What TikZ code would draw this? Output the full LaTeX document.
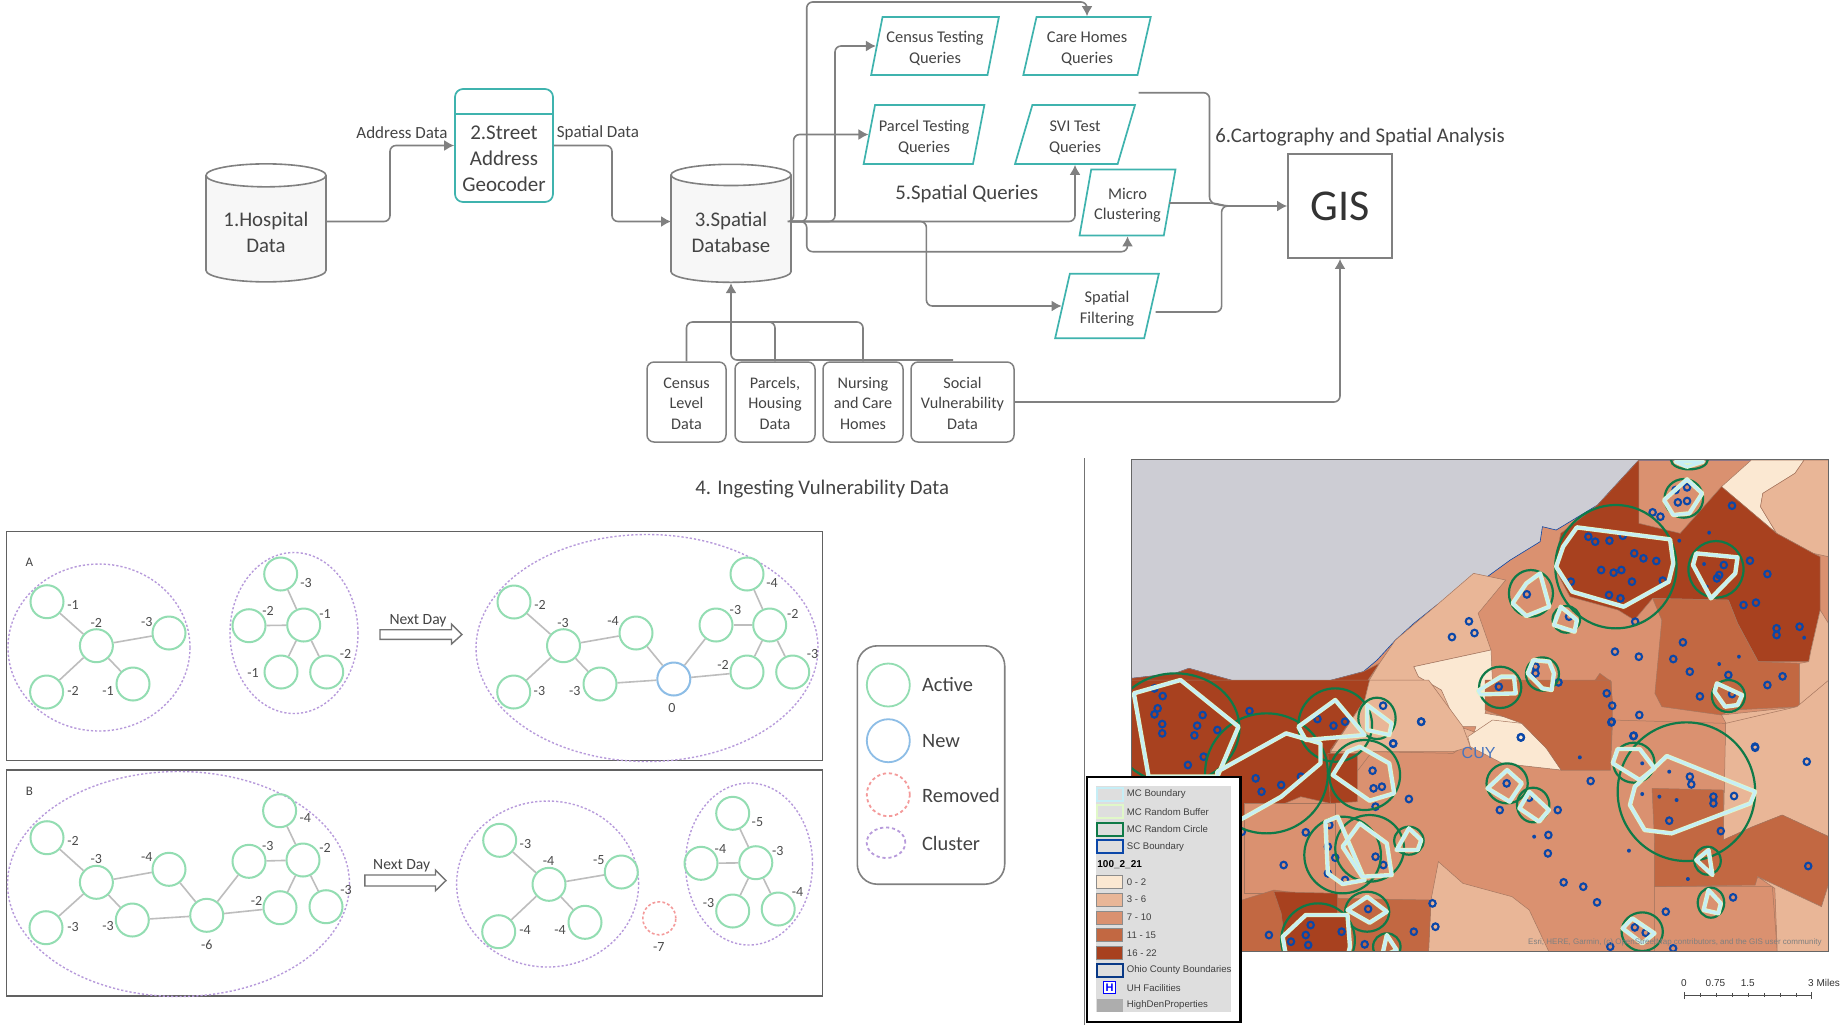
\documentclass[tikz,border=0pt]{standalone}
\usepackage{fontspec}
\setmainfont{Carlito}
\newfontfamily\arialf{Liberation Sans}
\usetikzlibrary{shapes.geometric,arrows.meta}
\definecolor{teal1}{HTML}{3FB3AE}
\definecolor{conn}{HTML}{808080}
\definecolor{txt}{HTML}{444444}
\definecolor{actg}{HTML}{93DDB2}
\definecolor{newb}{HTML}{8DBDE6}
\definecolor{remr}{HTML}{F49A9A}
\definecolor{clup}{HTML}{B79ADB}
\definecolor{edgeg}{HTML}{BDBDBD}
\definecolor{lake}{HTML}{CDCDD4}
\definecolor{ca}{HTML}{FBE8D2}
\definecolor{cb}{HTML}{E9B697}
\definecolor{cc}{HTML}{DA9170}
\definecolor{cd}{HTML}{C26842}
\definecolor{ce}{HTML}{A8411F}
\definecolor{ringg}{HTML}{0F7A48}
\definecolor{ringb}{HTML}{0B47A8}
\definecolor{bndb}{HTML}{C6EEF6}
\definecolor{bufg}{HTML}{E0F8C8}
\definecolor{regedge}{HTML}{A5765F}
\tikzset{
  x=0.5pt,y=-0.5pt,
  lab/.style={text=txt,inner sep=0pt,align=center},
  flowt/.style={lab,font=\fontsize{8.5}{10.3}\selectfont},
  cyl/.style={cylinder,shape border rotate=90,shape aspect=0.27,draw=conn,line width=.8pt,
     cylinder uses custom fill,cylinder end fill=white,cylinder body fill=black!3,
     minimum width=60pt,minimum height=59pt,inner sep=0pt,lab,
     font=\fontsize{10.4}{12.8}\selectfont},
  para/.style={trapezium,trapezium left angle=75,trapezium right angle=105,trapezium stretches=true,
     draw=teal1,line width=.85pt,inner sep=0pt,lab,font=\fontsize{8.2}{10.3}\selectfont},
  srcbox/.style={rectangle,rounded corners=3.5pt,draw=conn,line width=.75pt,minimum height=40pt,
     inner sep=0pt,lab,font=\fontsize{8.1}{10.3}\selectfont},
  cnx/.style={draw=conn,line width=.8pt,rounded corners=3pt},
  arr/.style={cnx,-{Latex[length=5pt,width=5.5pt]}},
  head/.style={lab,font=\fontsize{10.4}{13}\selectfont},
  panel/.style={rectangle,draw=black!62,line width=.7pt,inner sep=0pt},
  act/.style={circle,draw=actg,line width=1pt,minimum size=16.5pt,inner sep=0pt},
  newn/.style={circle,draw=newb,line width=1pt,minimum size=16.5pt,inner sep=0pt},
  remn/.style={ellipse,draw=remr,line width=.8pt,dash pattern=on 1.4pt off 1.1pt,minimum width=16.5pt,minimum height=16.5pt,inner sep=0pt},
  clu/.style={ellipse,draw=clup,line width=.7pt,dash pattern=on 1.1pt off 1pt,inner sep=0pt},
  edg/.style={draw=edgeg,line width=.8pt},
  val/.style={lab,font=\fontsize{7}{8}\selectfont,text=black!70},
  lgc/.style={circle,line width=.9pt,minimum size=21.5pt,inner sep=0pt},
  lgt/.style={lab,anchor=west,font=\fontsize{10.2}{11}\selectfont},
  blockarr/.style={draw=black!55,line width=.7pt,fill=white},
  buf/.style={draw=bufg,line width=2.2pt,line join=round},
  bnd/.style={draw=bndb,line width=1.4pt,line join=round},
  grn/.style={draw=ringg,line width=1.1pt},
  ring/.style={draw=ringb,line width=1.05pt},
  swt/.style={rectangle,draw=black!45,line width=.3pt,minimum width=13pt,minimum height=6.5pt,inner sep=0pt},
  swo/.style={rectangle,line width=1pt,minimum width=13pt,minimum height=6.5pt,inner sep=0pt,fill=black!13},
  lgm/.style={anchor=west,inner sep=0pt,text=black!75,font=\arialf\fontsize{4.8}{5}\selectfont},
  sbl/.style={inner sep=0pt,text=black!80,font=\arialf\fontsize{5}{6}\selectfont},
}
\newcommand\mapreg[2]{\filldraw[fill=#1,draw=regedge,line width=.25pt] plot coordinates {#2} -- cycle;}
\newcommand\mcpoly[1]{\draw[buf] plot coordinates {#1} -- cycle; \draw[bnd] plot coordinates {#1} -- cycle;}
\newcommand\pstr{\rule{0pt}{8.3pt}}
\newcommand\bstr{\rule{0pt}{7pt}}
\newcommand\cstr{\rule{0pt}{10.8pt}}
\begin{document}
\begin{tikzpicture}
\useasboundingbox (0,0) rectangle (1840,1025);
\fill[white] (0,0) rectangle (1840,1025);

% ---------- flow chart ----------
\node[cyl] (hosp) at (266,229) {\cstr 1.Hospital\\Data};
\node[cyl] (sdb) at (731,229) {\cstr 3.Spatial\\Database};
\node[rectangle,rounded corners=4pt,draw=teal1,line width=.85pt,minimum width=49pt,minimum height=56.5pt,inner sep=0pt] (geo) at (504,145.5) {};
\draw[teal1,line width=.85pt] (geo.west |- 0,114) -- (geo.east |- 0,114);
\node[lab,font=\fontsize{10.5}{13}\selectfont] (geot) at (504,159) {2.Street\\Address\\Geocoder};
\node[flowt] (addr) at (402,133) {Address Data};
\node[flowt] (spat) at (598,133) {Spatial Data};

\node[para,minimum width=64pt,minimum height=29pt] (q1) at (935,46) {\pstr Census Testing\\Queries};
\node[para,minimum width=64pt,minimum height=29pt] (q2) at (1087,46) {\pstr Care Homes\\Queries};
\node[para,minimum width=60.5pt,minimum height=29.5pt] (q3) at (924,134.5) {\pstr Parcel Testing\\Queries};
\node[para,minimum width=60pt,minimum height=29.5pt] (q4) at (1075,134.5) {\pstr SVI Test\\Queries};
\node[para,minimum width=48pt,minimum height=33pt] (q5) at (1127.5,202.5) {\pstr Micro\\Clustering};
\node[para,minimum width=52pt,minimum height=32.2pt] (q6) at (1107,306) {\pstr Spatial\\Filtering};
\node[rectangle,draw=conn,line width=.9pt,fill=white,minimum width=52pt,minimum height=52pt,inner sep=0pt,lab,text=black!80,font=\fontsize{22}{24}\selectfont] (gis) at (1340,206) {GIS};

\node[head,anchor=west] (h5) at (895,194) {5.Spatial Queries};
\node[head,anchor=west] (h6) at (1215,137.5) {6.Cartography and Spatial Analysis};
\node[head,anchor=west] (h4) at (695,489.5) {4. Ingesting Vulnerability Data};

\node[srcbox,minimum width=39.5pt] (s1) at (686.5,402) {\bstr Census\\Level\\Data};
\node[srcbox,minimum width=40pt] (s2) at (775,402) {\bstr Parcels,\\Housing\\Data};
\node[srcbox,minimum width=40pt] (s3) at (863,402) {\bstr Nursing\\and Care\\Homes};
\node[srcbox,minimum width=51.5pt] (s4) at (962.5,402) {\bstr Social\\Vulnerability\\Data};

\coordinate (outq2) at (1138.7,92.7);
\coordinate (outq5) at (1169,203);
\coordinate (outq6) at (1155.7,312);
\coordinate (sdbout) at (791,221.5);
\coordinate (sdbin) at (671,221.5);
\coordinate (hospout) at (326,221.5);
\coordinate (s4top) at (953,360);

\draw[arr] (hospout) -- (390,221.5) -- (390,145.5) -- (geo.west);
\draw[arr] (geo.east) -- (612,145.5) -- (612,221.5) -- (sdbin);
\draw[arr] (sdbout) -- (806.7,221.5) -- (806.7,2) -- (1087,2) -- (q2.north);
\draw[arr] (sdbout) -- (835,221.5) -- (835,46) -- (q1.west);
\draw[arr] (sdbout) -- (793.6,221.5) -- (793.6,134.5) -- (q3.west);
\draw[arr] (sdbout) -- (1075,221.5) -- (q4.south);
\draw[arr] (sdbout) -- (806.7,221.5) -- (806.7,251.7) -- (1127.5,251.7) -- (q5.south);
\draw[arr] (sdbout) -- (926.4,221.5) -- (926.4,306) -- (q6.west);
\draw[cnx] (outq2) -- (1209.5,92.7) -- (1209.5,203) -- (1225,206);
\draw[arr] (outq5) -- (1215,203) -- (1225,206) -- (gis.west);
\draw[cnx] (outq6) -- (1221.6,312) -- (1221.6,206) -- (1240,206);
\draw[arr] (s4.east) -- (1340,402) -- (gis.south);
\draw[cnx] (s1.north) -- (686.5,322) -- (731,322);
\draw[cnx] (s2.north) -- (775,322) -- (731,322);
\draw[cnx] (s3.north) -- (863,322) -- (731,322);
\draw[cnx] (s4top) -- (731,360) -- (731,330);
\draw[arr] (731,330) -- (sdb.south);

% ---------- panels ----------
\node[panel,minimum width=408pt,minimum height=114.5pt] (pa) at (414.2,646.2) {};
\node[panel,minimum width=408pt,minimum height=113pt] (pb) at (414.2,883) {};
\node[lab,font=\fontsize{6.5}{7}\selectfont] (la) at (29.5,562.7) {A};
\node[lab,font=\fontsize{6.5}{7}\selectfont] (lb) at (29.5,791) {B};

% panel A
\node[clu,minimum width=91pt,minimum height=83.5pt] (ca1) at (99,647.5) {};
\node[clu,minimum width=64pt,minimum height=80.5pt] (ca2) at (294,633) {};
\node[clu,minimum width=171pt,minimum height=113.5pt] (ca3) at (647,648) {};
\foreach \n/\x/\y in {a1/47/601.7,a2/96.4/645.7,a3/169/633,a4/46.6/692,a5/133/684,
   b1/280.7/574,b2/303.7/625,b3/249/625.7,b4/281/672,b5/326.7/672,
   c1/514/602,c2/563.5/645.7,c3/636/633,c4/513.7/692,c5/600/684,
   c7/716/625,c8/769.7/625,c9/747/574,c10/747/672,c11/792.7/672}
  \node[act] (\n) at (\x,\y) {};
\node[newn] (c6) at (673.8,679) {};
\foreach \u/\v in {a1/a2,a2/a3,a2/a4,a2/a5,b1/b2,b3/b2,b2/b4,b2/b5,
   c1/c2,c2/c3,c2/c4,c2/c5,c3/c6,c5/c6,c6/c7,c6/c10,c7/c8,c9/c8,c8/c10,c8/c11}
  \draw[edg] (\u) -- (\v);
\foreach \x/\y/\t [count=\i] in {73/605/-1,96.4/622.7/-2,146.8/621.7/-3,73/690.7/-2,108/690.7/-1,
   306/583/-3,325/614/-1,268/610.7/-2,253/673/-1,345.5/654/-2,
   540/605/-2,563/622.7/-3,613/621/-4,539.4/690.7/-3,574.7/690.7/-3,672/708/0,
   735.4/610/-3,792.7/614/-2,772/583/-4,723/665/-2,812.5/654/-3}
  \node[val] (va\i) at (\x,\y) {\t};
\draw[blockarr] (380,629.7) -- (451.5,629.7) -- (451.5,624) -- (462,634.5) -- (451.5,644) -- (451.5,639.3) -- (380,639.3) -- cycle;
\node[lab,font=\fontsize{7.8}{8}\selectfont] (nd1) at (418,620.5) {Next Day};

% panel B
\node[clu,minimum width=171pt,minimum height=112.5pt] (cd) at (178.5,884) {};
\node[clu,minimum width=91pt,minimum height=83pt] (ce) at (547.6,884) {};
\node[clu,minimum width=63.5pt,minimum height=81pt] (cf) at (749,864) {};
\foreach \n/\x/\y in {d1/47/837.7,d2/96.4/882.3,d3/169/869.3,d4/46/927.7,d5/132.3/920,d6/206.7/915.3,
   d7/249/861.3,d8/303/860,d9/279.6/810.7,d10/280/907.7,d11/326/906.7,
   e1/499.7/840.3,e2/549/884.3,e3/621.3/872,e4/498.7/931.7,e5/585/922.3,
   f1/732.7/813.3,f2/755.8/862.7,f3/701/863.3,f4/732.7/911,f5/778.2/909}
  \node[act] (\n) at (\x,\y) {};
\node[remn] (rm) at (659.3,918.3) {};
\foreach \u/\v in {d1/d2,d2/d3,d2/d4,d2/d5,d3/d6,d5/d6,d6/d7,d6/d10,d7/d8,d9/d8,d8/d10,d8/d11,
   e1/e2,e2/e3,e2/e4,e2/e5,f1/f2,f3/f2,f2/f4,f2/f5}
  \draw[edg] (\u) -- (\v);
\foreach \x/\y/\t [count=\i] in {73/841/-2,96.4/859/-3,146.8/856.7/-4,73/926.7/-3,108/925.7/-3,206.7/944.7/-6,
   267.8/846/-3,325/848.3/-2,305.3/818.3/-4,256.6/901/-2,346/890/-3,
   525.4/844/-3,548.5/861.3/-4,598.8/860/-5,525/930/-4,560/930/-4,658.8/947.3/-7,
   757.4/821.7/-5,777.7/850.7/-3,720.4/849/-4,708.6/903.3/-3,797.5/892.3/-4}
  \node[val] (vb\i) at (\x,\y) {\t};
\draw[blockarr] (364.8,875) -- (435.5,875) -- (435.5,870) -- (446,880.5) -- (435.5,890.7) -- (435.5,886) -- (364.8,886) -- cycle;
\node[lab,font=\fontsize{7.8}{8}\selectfont] (nd2) at (401.7,865.5) {Next Day};

% graph legend
\node[rectangle,rounded corners=10pt,draw=black!50,line width=.8pt,minimum width=73.7pt,minimum height=119.2pt,inner sep=0pt] (glg) at (931,765) {};
\node[lgc,draw=actg] (g1) at (888.3,685) {};
\node[lgc,draw=newb] (g2) at (888.3,740.7) {};
\node[lgc,draw=remr,dash pattern=on 1.6pt off 1.4pt] (g3) at (888.3,794.7) {};
\node[ellipse,draw=clup,line width=.9pt,dash pattern=on 1.6pt off 1.4pt,minimum width=19.3pt,minimum height=15.3pt,inner sep=0pt] (g4) at (886,842.7) {};
\node[lgt] (gt1) at (921.7,685) {Active};
\node[lgt] (gt2) at (921.7,740.7) {New};
\node[lgt] (gt3) at (921.7,795) {Removed};
\node[lgt] (gt4) at (921.7,843) {Cluster};

% divider
\draw[black!55,line width=.4pt] (1084.4,458) -- (1084.4,1025);

% ---------- map ----------
\begin{scope}
\clip (1131.5,459.3) rectangle (1828.5,951.7);
\fill[lake] (1131.5,459.3) rectangle (1828.5,951.7);
% land top half, crop coordinates
\begin{scope}[shift={(1120,450)},x=0.22957pt,y=-0.16667pt]
\filldraw[fill=cc,draw=ringb,line width=.3pt] plot coordinates {(25,685)(120,670)(150,655)(280,705)(385,740)(420,705)(530,665)(560,630)(600,570)(640,520)(690,465)(770,410)(850,330)(915,275)(920,230)(950,240)(1040,165)(1130,30)(1543,30)(1543,1500)(25,1500)} -- cycle;
\mapreg{ce}{(25,685)(120,670)(150,655)(280,705)(385,740)(420,705)(530,665)(565,640)(525,720)(530,900)(25,900)}
\mapreg{cb}{(530,720)(565,640)(600,570)(690,465)(770,370)(840,390)(780,490)(808,600)(640,650)(650,680)(700,720)(740,830)(780,850)(760,900)(530,900)}
\mapreg{ca}{(640,650)(808,600)(812,720)(795,790)(880,810)(925,880)(925,900)(760,900)(775,830)(735,830)(700,720)(650,680)}
\mapreg{cd}{(800,780)(815,720)(955,710)(1035,690)(1045,670)(1070,695)(1070,900)(925,900)(880,810)}
\mapreg{ca}{(1310,110)(1375,30)(1490,30)(1470,70)(1400,130)(1395,170)(1430,250)}
\mapreg{cb}{(1490,30)(1543,30)(1543,320)(1510,310)(1430,250)(1395,170)(1400,130)(1470,70)}
\mapreg{ce}{(1130,30)(1130,220)(1220,250)(1310,110)(1430,250)(1510,310)(1525,320)(1525,480)(1505,600)(1500,635)(1390,635)(1345,520)(1325,450)(1160,445)(1120,510)(1085,480)(980,440)(945,350)(960,250)(1040,165)}
\mapreg{cd}{(1160,445)(1325,450)(1345,520)(1390,635)(1480,640)(1480,770)(1330,780)(1310,795)(1180,770)(1165,730)(1180,510)}
\mapreg{cb}{(1320,820)(1310,795)(1480,770)(1480,640)(1500,635)(1505,600)(1525,480)(1543,520)(1543,900)(1360,900)}
\end{scope}
% land lower half, crop coordinates
\begin{scope}[shift={(1070,680)},x=0.24558pt,y=-0.16667pt]
\mapreg{cc}{(615,215)(780,220)(810,190)(880,250)(1000,270)(1100,270)(1105,120)(1335,130)(1335,330)(1190,490)(1190,815)(540,815)(540,360)}
\mapreg{ce}{(125,0)(610,0)(600,60)(530,210)(530,370)(470,350)(340,430)(125,300)}
\mapreg{ce}{(525,220)(585,220)(585,365)(530,370)}
\mapreg{cb}{(610,0)(730,0)(800,140)(815,200)(780,215)(530,215)(600,60)}
\mapreg{ca}{(810,170)(860,120)(920,130)(970,205)(1000,270)(880,250)(815,200)}
\mapreg{cd}{(845,90)(920,130)(970,205)(1000,270)(1100,270)(1105,70)(1100,0)(845,0)}
\mapreg{cc}{(355,370)(540,370)(540,640)(355,640)}
\mapreg{cb}{(1335,130)(1480,80)(1545,0)(1545,470)(1450,405)(1390,440)(1330,480)}
\mapreg{cc}{(1190,620)(1430,620)(1440,815)(1190,815)}
\mapreg{cd}{(1185,325)(1330,330)(1330,480)(1390,440)(1450,405)(1545,470)(1545,610)(1530,680)(1400,590)(1395,615)(1190,620)(1190,480)}
\mapreg{cb}{(1400,590)(1530,680)(1545,610)(1545,815)(1440,815)(1435,625)}
\mapreg{cb}{(730,815)(735,660)(750,545)(800,610)(900,650)(935,690)(975,815)}
\mapreg{cd}{(350,660)(415,630)(550,655)(735,660)(730,815)(350,815)}
\mapreg{ce}{(415,635)(545,640)(545,700)(570,700)(570,815)(440,815)(430,700)}
\end{scope}
% features
\begin{scope}[shift={(1120,450)},x=0.22957pt,y=-0.16667pt]
\foreach \x/\y in {1020/260,1035/275,1066/272,1095/257,1120/310,1140/325,1168/333,1048/360,1075/368,1092/360,982/395,1065/435,1090/445,1115/395,1182/392,1122/515,1315/345,1305/375,1300/385,1372/332,1410/372,1358/465,1385/458,1430/535,1430/555,1480/530,1226/577,1333/167,1235/112,1210/120,1215/157,1235/153,1160/187,1177/200,978/500,886/433,760/514,772/549,723/561,1078/605,1130/620,1205/627,1241/665,1325/675,1443/679,1410/705,1263/739,1333/732,1060/730,1072/767,1131/795,1070/817,1118/858,873/862,656/815,573/767,595/881,282/783,180/795,75/715,93/738,82/775,75/793,92/822,92/850,168/827,162/856,212/840,430/807,465/827,490/815,825/710,905/670,905/650,955/697,1383/890}
  \draw[ring] (\x,\y) ellipse [x radius=7,y radius=10];
\foreach \x/\y in {1283/248,1272/342,1218/272,1490/563,1348/620,1305/642,1278/410}
  \fill[ringb] (\x,\y) ellipse [x radius=4,y radius=6];
\foreach \x/\y/\a/\b in {1080/350/132/185,1298/358/60/85,895/430/48/70,972/508/30/40,1228/145/42/58,1240/30/40/28,920/672/36/50,828/712/46/62,1325/738/36/48}
  \draw[grn] (\x,\y) ellipse [x radius=\a,y radius=\b];
\mcpoly{(995,232)(1198,268)(1205,340)(1195,395)(1097,470)(985,425)(950,350)(965,290)}
\mcpoly{(1255,310)(1345,322)(1340,370)(1287,445)(1248,345)}
\mcpoly{(915,370)(935,470)(885,498)(855,460)(885,400)}
\mcpoly{(960,470)(995,510)(990,545)(945,525)}
\mcpoly{(1235,88)(1268,130)(1240,190)(1205,195)(1185,150)}
\mcpoly{(1210,35)(1270,35)(1235,50)}
\mcpoly{(900,630)(935,635)(945,670)(940,720)(920,715)(888,670)}
\mcpoly{(830,680)(858,680)(862,730)(785,733)(780,722)}
\mcpoly{(1300,700)(1355,735)(1345,765)(1318,770)(1295,725)}
\end{scope}
\begin{scope}[shift={(1070,680)},x=0.24558pt,y=-0.16667pt]
\foreach \x/\y in {378/295,390/335,430/315,240/255,272/230,320/310,470/290,616/272,618/325,635/320,690/357,622/380,528/435,525/500,540/533,622/530,480/457,435/555,525/580,560/600,638/555,607/687,490/735,480/765,485/795,405/765,553/755,450/785,600/793,700/755,738/670,744/740,889/310,935/353,875/390,993/390,1060/303,1395/203,1500/245,1262/290,1265/313,1310/350,1310/370,1352/348,1220/422,1325/453,974/465,973/520,1005/607,1045/620,1073/667,1213/695,1350/652,1150/742,1172/758,1100/800,1228/805,1503/558,918/172,1148/167,1103/125,715/125,658/190,350/455}
  \draw[ring] (\x,\y) ellipse [x radius=6.5,y radius=10];
\foreach \x/\y in {1165/250,1220/275,1038/232,1165/342,1200/350,1235/360,945/470,1138/512,1258/597}
  \fill[ringb] (\x,\y) ellipse [x radius=4,y radius=6];
\foreach \x/\y/\a/\b in {215/145/130/165,400/280/125/180,540/135/75/110,625/115/38/62,600/285/72/105,555/525/78/115,610/505/70/100,690/482/30/42,605/695/45/60,505/780/75/110,645/800/28/40,890/310/42/60,943/375/33/52,1255/335/140/208,1148/248/42/60,1298/542/27/42,1305/668/27/45,1165/755/42/58}
  \draw[grn] (\x,\y) ellipse [x radius=\a,y radius=\b];
\mcpoly{(130,40)(225,0)(343,140)(300,290)(160,290)}
\mcpoly{(300,275)(440,160)(510,190)(510,250)(430,350)(340,425)(300,400)}
\mcpoly{(465,140)(540,60)(600,165)(480,180)}
\mcpoly{(605,75)(655,130)(650,165)(605,150)}
\mcpoly{(590,200)(650,250)(660,340)(610,362)(535,285)(565,215)}
\mcpoly{(520,425)(545,410)(600,600)(555,612)(525,580)}
\mcpoly{(590,430)(645,490)(655,585)(595,590)(555,500)}
\mcpoly{(690,445)(715,480)(708,510)(665,510)}
\mcpoly{(605,650)(645,695)(610,728)(565,690)}
\mcpoly{(480,705)(565,705)(570,800)(565,830)(440,830)(433,770)}
\mcpoly{(645,765)(665,810)(635,830)}
\mcpoly{(890,270)(920,310)(895,365)(850,325)}
\mcpoly{(935,335)(975,390)(955,425)(915,385)}
\mcpoly{(1215,228)(1395,335)(1385,370)(1225,460)(1170,450)(1140,375)(1150,320)}
\mcpoly{(1115,207)(1160,207)(1190,265)(1160,300)(1105,250)}
\mcpoly{(1300,510)(1308,585)(1275,540)}
\mcpoly{(1300,630)(1325,670)(1320,700)(1290,690)}
\mcpoly{(1145,715)(1190,760)(1165,790)(1125,745)}
\end{scope}
\node[inner sep=0pt,text=ringb!75!white,font=\arialf\fontsize{8}{9}\selectfont] (cuy) at (1478.6,753.3) {CUY};
\node[anchor=east,inner sep=0pt,text=black!50,font=\arialf\fontsize{4}{5}\selectfont] (attr) at (1822,942) {Esri, HERE, Garmin, (c) OpenStreetMap contributors, and the GIS user community};
\end{scope}
\draw[black!60,line width=.5pt] (1131.5,459.3) rectangle (1828.5,951.7);

% map legend
\node[rectangle,draw=black,line width=1.1pt,fill=white,minimum width=76.7pt,minimum height=122.5pt,inner sep=0pt] (mlg) at (1163.7,899.2) {};
\node[rectangle,fill=black!13,minimum width=67.5pt,minimum height=112.8pt,inner sep=0pt] (mlgi) at (1163,898.8) {};
\node[swo,draw=bndb] (m1) at (1109.5,794) {};
\node[swo,draw=bufg] (m2) at (1109.5,811.7) {};
\node[swo,draw=ringg] (m3) at (1109.5,829) {};
\node[swo,draw=ringb] (m4) at (1109.5,846.7) {};
\node[swt,fill=ca] (m6) at (1109.5,882) {};
\node[swt,fill=cb] (m7) at (1109.5,899.3) {};
\node[swt,fill=cc] (m8) at (1109.5,917.3) {};
\node[swt,fill=cd] (m9) at (1109.5,935) {};
\node[swt,fill=ce] (m10) at (1109.5,952.7) {};
\node[swo,draw=ringb!80!black] (m11) at (1109.5,970) {};
\node[rectangle,draw=blue,line width=.7pt,fill=white,minimum width=6pt,minimum height=6pt,inner sep=0pt,text=blue,font=\arialf\bfseries\fontsize{5.5}{6}\selectfont] (m12) at (1109.5,987.7) {H};
\node[rectangle,fill=black!32,minimum width=13pt,minimum height=6.5pt,inner sep=0pt] (m13) at (1109.5,1005) {};
\foreach \y/\t [count=\i] in {794/MC Boundary,811.7/MC Random Buffer,829/MC Random Circle,846.7/SC Boundary,882/0 - 2,899.3/3 - 6,917.3/7 - 10,935/11 - 15,952.7/16 - 22,970/Ohio County Boundaries,987.7/UH Facilities,1005/HighDenProperties}
  \node[lgm] (mt\i) at (1126.5,\y) {\t};
\node[lgm,anchor=west,font=\arialf\bfseries\fontsize{5}{6}\selectfont,text=black] (mtt) at (1097,864.3) {100\_2\_21};

% scale bar
\node[sbl] (sb0) at (1684,983) {0};
\node[sbl] (sb1) at (1715.4,983) {0.75};
\node[sbl] (sb2) at (1747.8,983) {1.5};
\node[sbl] (sb3) at (1824,983) {3 Miles};
\draw[black!70,line width=.4pt] (1684,995.3) -- (1811.7,995.3);
\foreach \x in {1700,1716,1732,1748,1764,1780,1796}
  \draw[black!70,line width=.4pt] (\x,993.3) -- (\x,997.3);
\foreach \x in {1684,1811.7}
  \draw[black!70,line width=.4pt] (\x,992) -- (\x,999);
\end{tikzpicture}
\end{document}
